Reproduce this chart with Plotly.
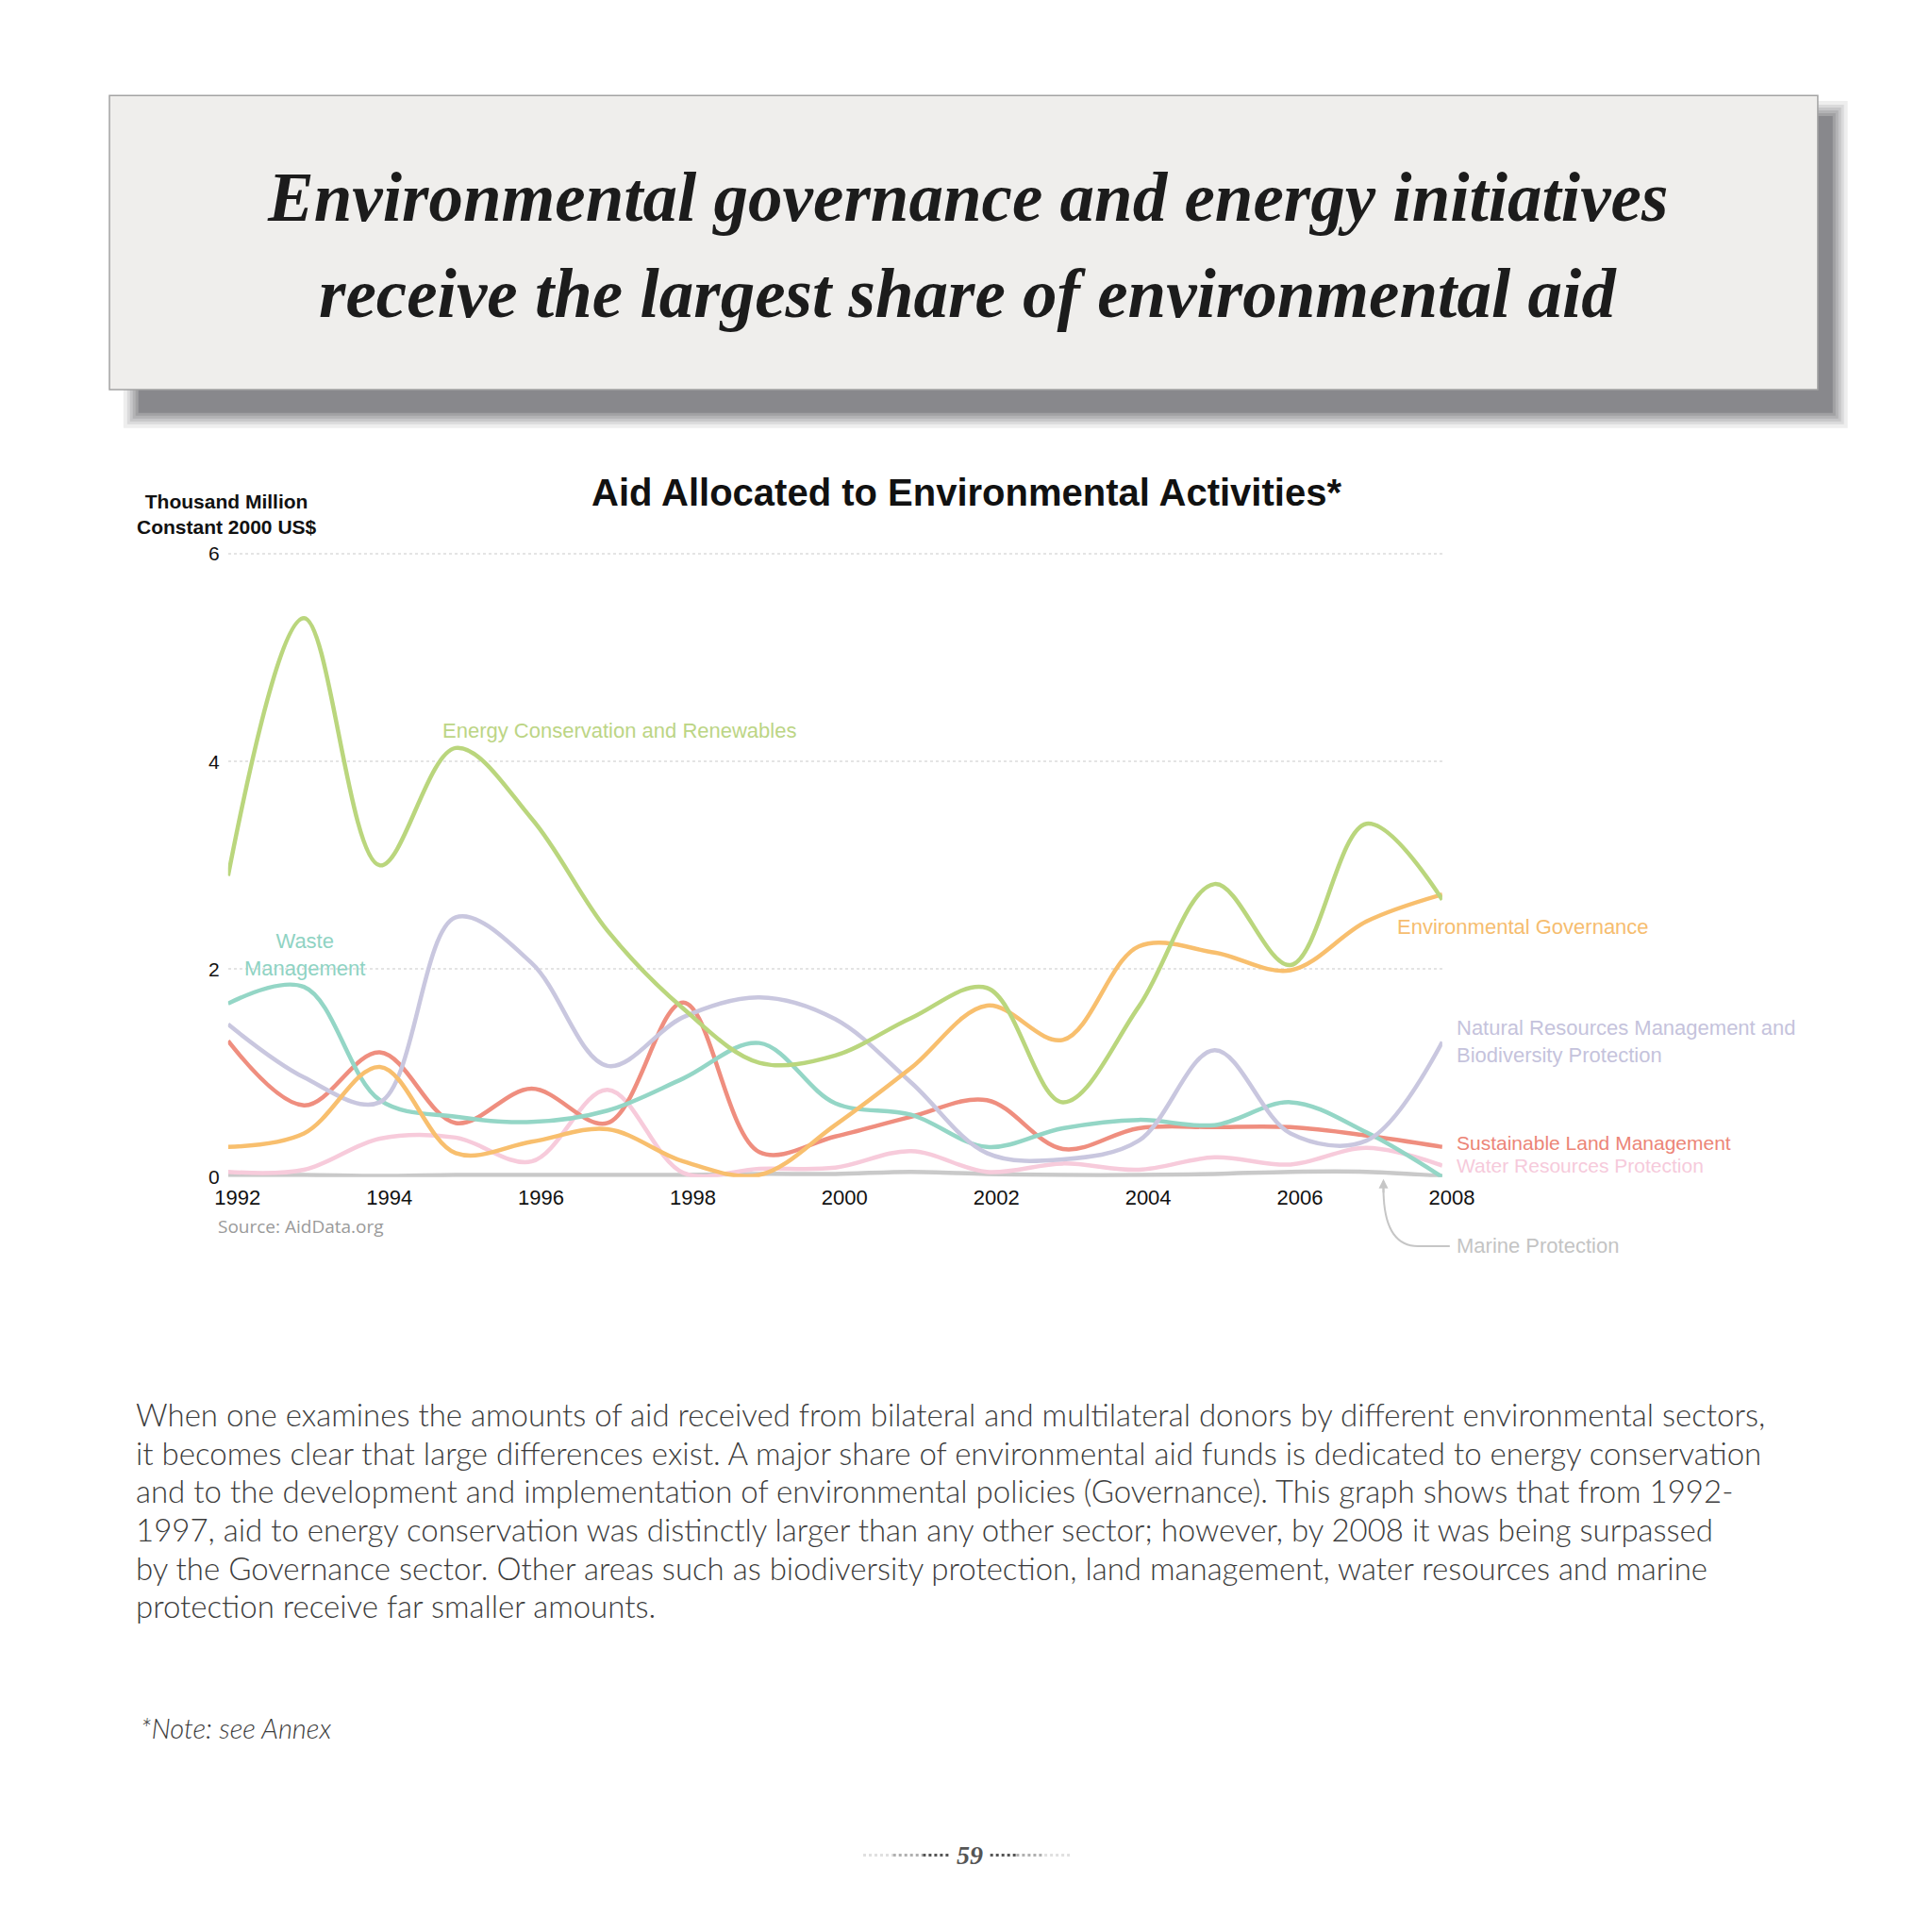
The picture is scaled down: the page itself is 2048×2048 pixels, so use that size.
import plotly.graph_objects as go

# Aid allocated to environmental activities, thousand million constant 2000 US$
years = list(range(1992, 2009))

energy = [2.90, 5.38, 3.00, 4.13, 3.45, 2.37, 1.62, 1.10, 1.17, 1.53, 1.82, 0.72, 1.64, 2.82, 2.04, 3.40, 2.67]
governance = [0.29, 0.42, 1.06, 0.23, 0.34, 0.46, 0.15, 0.02, 0.50, 1.05, 1.65, 1.32, 2.22, 2.16, 1.99, 2.46, 2.72]
natural = [1.47, 0.96, 0.72, 2.50, 2.06, 1.07, 1.54, 1.73, 1.52, 0.91, 0.23, 0.17, 0.35, 1.22, 0.42, 0.35, 1.30]
waste = [1.67, 1.83, 0.74, 0.58, 0.53, 0.64, 0.95, 1.29, 0.71, 0.60, 0.29, 0.47, 0.55, 0.50, 0.72, 0.43, 0.00]
land = [1.31, 0.69, 1.20, 0.52, 0.85, 0.52, 1.68, 0.24, 0.39, 0.58, 0.74, 0.27, 0.47, 0.48, 0.48, 0.40, 0.29]
water = [0.05, 0.07, 0.37, 0.38, 0.15, 0.84, 0.04, 0.08, 0.09, 0.25, 0.05, 0.13, 0.07, 0.19, 0.12, 0.28, 0.11]
marine = [0.02, 0.02, 0.01, 0.02, 0.02, 0.02, 0.02, 0.03, 0.03, 0.05, 0.03, 0.02, 0.02, 0.03, 0.05, 0.05, 0.01]

x_ticks = [1992, 1994, 1996, 1998, 2000, 2002, 2004, 2006, 2008]
y_ticks = [0, 2, 4, 6]

body_lines = [
    "When one examines the amounts of aid received from bilateral and multilateral donors by different environmental sectors,",
    "it becomes clear that large differences exist. A major share of environmental aid funds is dedicated to energy conservation",
    "and to the development and implementation of environmental policies (Governance). This graph shows that from 1992-",
    "1997, aid to energy conservation was distinctly larger than any other sector; however, by 2008 it was being surpassed",
    "by the Governance sector. Other areas such as biodiversity protection, land management, water resources and marine",
    "protection receive far smaller amounts.",
]

W = H = 2048


def adj(v):
    # the page sits a few pixels down/right of the window origin
    return (v - 7.9) / 1.01


def px(x):
    return adj(x) / W


def py(y):
    return 1 - adj(y) / H


series = [
    ("Marine Protection", marine, "#c9c9c9"),
    ("Water Resources Protection", water, "#f7cbdb"),
    ("Sustainable Land Management", land, "#ef8e7f"),
    ("Waste Management", waste, "#94d6c6"),
    ("Natural Resources Management and Biodiversity Protection", natural, "#c9c7df"),
    ("Environmental Governance", governance, "#f8bf6e"),
    ("Energy Conservation and Renewables", energy, "#bad67d"),
]

fig = go.Figure()
for name, vals, col in series:
    fig.add_trace(go.Scatter(
        x=years, y=vals, name=name, mode="lines",
        line=dict(color=col, width=4.5, shape="spline", smoothing=1.0),
        cliponaxis=False, hoverinfo="skip",
    ))

# title box with soft shadow
shapes = []
for e, op in [(16, 0.15), (12, 0.2), (9, 0.25), (6, 0.32), (3, 0.45)]:
    shapes.append(dict(type="rect", xref="paper", yref="paper",
                       x0=px(148 - e), x1=px(1962 + e), y0=py(442 + e), y1=py(124 - e),
                       fillcolor="#8b8b8f", opacity=op, line=dict(width=0), layer="below"))
shapes.append(dict(type="rect", xref="paper", yref="paper",
                   x0=px(148), x1=px(1962), y0=py(442), y1=py(124),
                   fillcolor="#88888c", line=dict(width=0), layer="below"))
shapes.append(dict(type="rect", xref="paper", yref="paper",
                   x0=px(117), x1=px(1946), y0=py(417), y1=py(102),
                   fillcolor="#efeeec", line=dict(color="#a3a3a3", width=1.5), layer="below"))

# curved pointer to the marine line
shapes.append(dict(type="path", xref="paper", yref="paper",
                   path=f"M {px(1552)},{py(1334)} L {px(1518)},{py(1334)} "
                        f"Q {px(1481)},{py(1334)} {px(1481)},{py(1272)}",
                   line=dict(color="#c6c6c6", width=2)))

# page number dots
for x0, x1, col in [(924, 956, "#e0e0e0"), (956, 988, "#b0b0b0"), (988, 1016, "#555555"),
                    (1060, 1088, "#555555"), (1088, 1118, "#b0b0b0"), (1118, 1148, "#e0e0e0")]:
    shapes.append(dict(type="line", xref="paper", yref="paper",
                       x0=px(x0), x1=px(x1), y0=py(1986), y1=py(1986),
                       line=dict(color=col, width=3, dash="dot")))

serif = "Liberation Serif"
ann = []
ann.append(dict(text="<b>Environmental governance and energy initiatives</b>", x=px(1036), y=py(211),
                font=dict(family=serif, size=73, color="#1c1c1c", style="italic")))
ann.append(dict(text="<b>receive the largest share of environmental aid</b>", x=px(1036), y=py(314),
                font=dict(family=serif, size=73, color="#1c1c1c", style="italic")))
ann.append(dict(text="<b>Aid Allocated to Environmental Activities*</b>", x=px(1035), y=py(527),
                font=dict(family="Liberation Sans", size=40, color="#111111")))
ann.append(dict(text="<b>Thousand Million<br>Constant 2000 US$</b>", x=px(243), y=py(550),
                font=dict(family="Liberation Sans", size=21, color="#111111")))
ann.append(dict(text="Source: AidData.org", x=px(231), y=py(1313), xanchor="left",
                font=dict(family="Open Sans", size=19, color="#9a9a9a")))

lab = "Liberation Sans"
ann.append(dict(text="Energy Conservation and Renewables", x=px(471), y=py(782), xanchor="left",
                font=dict(family=lab, size=22, color="#bcd585")))
ann.append(dict(text="Waste<br>Management", x=px(326), y=py(1022),
                font=dict(family=lab, size=22, color="#8fd3c3")))
ann.append(dict(text="Environmental Governance", x=px(1494), y=py(992), xanchor="left",
                font=dict(family=lab, size=22, color="#f6bd6f")))
ann.append(dict(text="Natural Resources Management and<br>Biodiversity Protection", x=px(1557), y=py(1115),
                xanchor="left", align="left", font=dict(family=lab, size=22, color="#c5c3dc")))
ann.append(dict(text="Sustainable Land Management", x=px(1557), y=py(1223), xanchor="left",
                font=dict(family=lab, size=21, color="#ec8577")))
ann.append(dict(text="Water Resources Protection", x=px(1557), y=py(1248), xanchor="left",
                font=dict(family=lab, size=21, color="#f6cadb")))
ann.append(dict(text="Marine Protection", x=px(1557), y=py(1334), xanchor="left",
                font=dict(family=lab, size=22, color="#c4c4c4")))
ann.append(dict(text="", x=px(1481), y=py(1262), showarrow=True, axref="pixel", ayref="pixel",
                ax=0, ay=16, arrowhead=2, arrowsize=1, arrowwidth=2, arrowcolor="#c6c6c6"))

body = "Lato"
for i, line in enumerate(body_lines):
    ann.append(dict(text=line, x=px(143), y=py(1514 + 41 * i), xanchor="left",
                    font=dict(family=body, size=33, weight=300, color="#3c3c3c")))
ann.append(dict(text="*Note: see Annex", x=px(148), y=py(1850), xanchor="left",
                font=dict(family=body, size=29, weight=300, color="#3c3c3c", style="italic")))
ann.append(dict(text="<b>59</b>", x=px(1038), y=py(1986),
                font=dict(family=serif, size=28, color="#555555", style="italic")))

for a in ann:
    a.setdefault("xref", "paper")
    a.setdefault("yref", "paper")
    a.setdefault("showarrow", False)
    a.setdefault("xanchor", "center")
    a.setdefault("yanchor", "middle")

fig.update_layout(
    width=W, height=H,
    margin=dict(l=0, r=0, t=0, b=0, autoexpand=False),
    paper_bgcolor="white", plot_bgcolor="rgba(0,0,0,0)",
    showlegend=False,
    shapes=shapes, annotations=ann,
    xaxis=dict(domain=[px(244), px(1544)], range=[1992, 2008], tickvals=x_ticks,
               showgrid=False, zeroline=False, showline=False, ticks="", automargin=False,
               ticklabelshift=10, ticklabelstandoff=6,
               tickfont=dict(family="Liberation Sans", size=22, color="#111111")),
    yaxis=dict(domain=[py(1260), py(591.5)], range=[0, 6.01], tickvals=y_ticks,
               showgrid=True, gridcolor="#e4e4e4", gridwidth=1.5, griddash="dot",
               zeroline=False, showline=False, ticks="", automargin=False, ticklabelstandoff=8,
               tickfont=dict(family="Liberation Sans", size=21, color="#111111")),
)

fig.write_html("out.html")
